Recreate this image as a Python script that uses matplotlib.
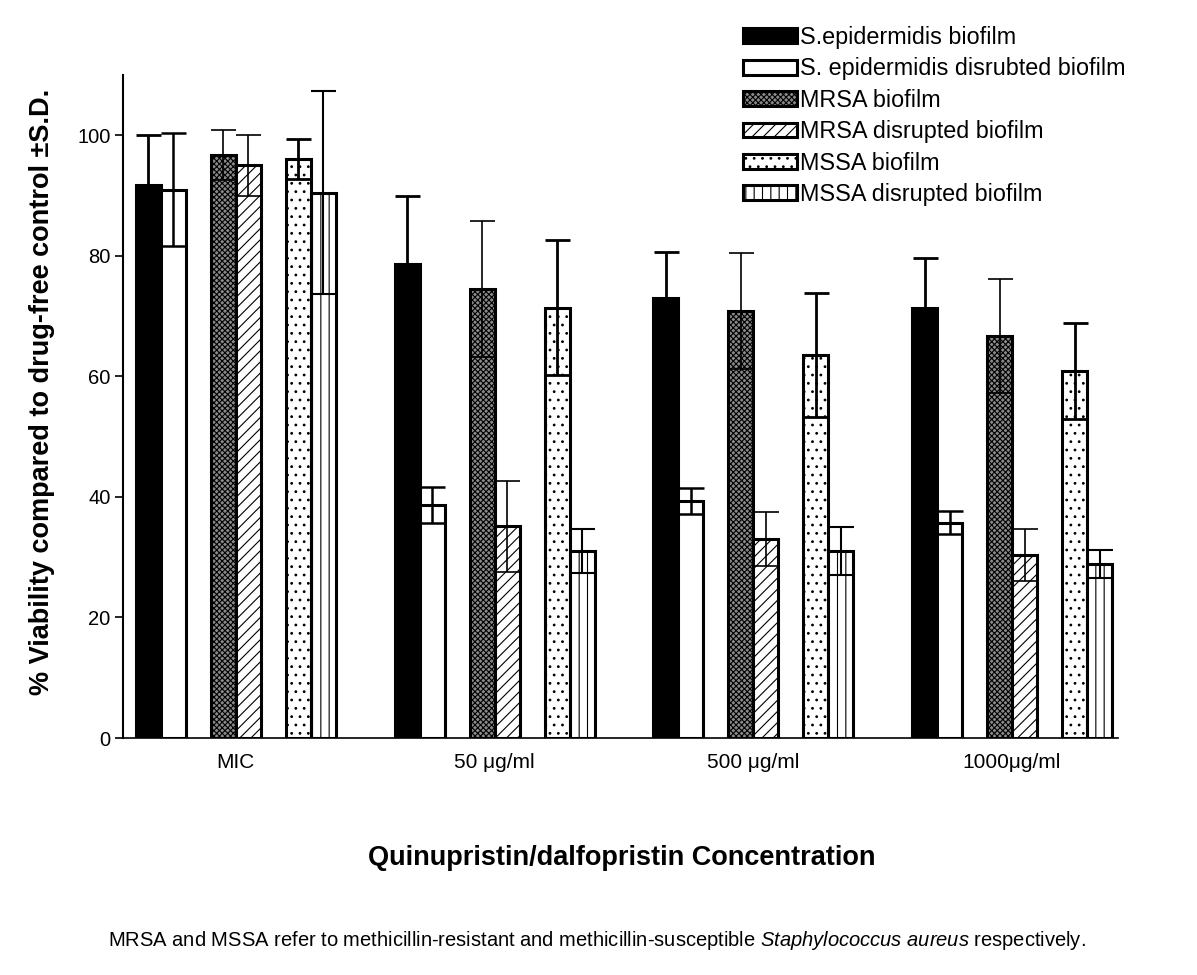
import matplotlib
matplotlib.use("Agg")
import matplotlib.pyplot as plt
import numpy as np

plt.rcParams['font.family'] = ['Liberation Sans', 'DejaVu Sans']
plt.rcParams['hatch.linewidth'] = 0.8
plt.rcParams['mathtext.fontset'] = 'custom'
plt.rcParams['mathtext.rm'] = 'Liberation Sans'
plt.rcParams['mathtext.it'] = 'Liberation Sans:italic'

categories = ["MIC", "50 \u03bcg/ml", "500 \u03bcg/ml", "1000\u03bcg/ml"]
series_names = ["S.epidermidis biofilm", "S. epidermidis disrubted biofilm",
                "MRSA biofilm", "MRSA disrupted biofilm",
                "MSSA biofilm", "MSSA disrupted biofilm"]

se_biofilm = [91.7, 78.7, 73.0, 71.3]
se_biofilm_sd = [8.3, 11.3, 7.7, 8.4]
se_disrupted = [91.0, 38.7, 39.3, 35.7]
se_disrupted_sd = [9.3, 3.0, 2.2, 1.9]
mrsa_biofilm = [96.7, 74.5, 70.9, 66.7]
mrsa_biofilm_sd = [4.1, 11.3, 9.6, 9.4]
mrsa_disrupted = [95.0, 35.1, 33.0, 30.4]
mrsa_disrupted_sd = [5.0, 7.5, 4.5, 4.3]
mssa_biofilm = [96.0, 71.4, 63.5, 60.9]
mssa_biofilm_sd = [3.3, 11.2, 10.3, 7.9]
mssa_disrupted = [90.5, 31.0, 31.0, 28.9]
mssa_disrupted_sd = [16.8, 3.7, 4.0, 2.3]

values = [se_biofilm, se_disrupted, mrsa_biofilm, mrsa_disrupted, mssa_biofilm, mssa_disrupted]
sds = [se_biofilm_sd, se_disrupted_sd, mrsa_biofilm_sd, mrsa_disrupted_sd, mssa_biofilm_sd, mssa_disrupted_sd]

yticks = [0, 20, 40, 60, 80, 100]

fig = plt.figure(figsize=(11.97, 9.75), dpi=100)
ax = fig.add_axes([123/1197, 1-738/975, (1118-123)/1197, (738-75)/975])

bw = 25/259
offsets = np.array([-87, -62, -12, 13, 63, 88]) / 259
fills = ['black', 'white', '#8a8a8a', 'white', 'white', 'white']
hatches = [None, None, 'xxxxxx', '///', '..', '||']
err_lw = [2.0, 1.8, 1.2, 1.2, 2.0, 1.5]

x = np.arange(len(categories))
for i in range(6):
    ax.bar(x + offsets[i], values[i], width=bw, color=fills[i], edgecolor='black',
           linewidth=2.2, hatch=hatches[i], label=series_names[i], zorder=2)
    ax.errorbar(x + offsets[i], values[i], yerr=sds[i], fmt='none', ecolor='black',
                elinewidth=err_lw[i], capsize=12.5 * 72 / 100, capthick=err_lw[i], zorder=3)

ax.set_xlim(-112.5/259, 3 + 106.5/259)
ax.set_ylim(0, 110)
ax.set_yticks(yticks)
ax.set_xticks(x)
ax.set_xticklabels(categories)
ax.tick_params(axis='x', length=0, labelsize=15, pad=11)
ax.tick_params(axis='y', length=6, width=1.2, labelsize=14.5, pad=3)
for s in ['top', 'right']:
    ax.spines[s].set_visible(False)
ax.spines['left'].set_linewidth(1.5)
ax.spines['bottom'].set_linewidth(1.2)

fig.text(42/1197, 1-392/975, "% Viability compared to drug-free control \u00b1S.D.",
         rotation=90, ha='center', va='center', fontsize=19.5, fontweight='bold')
fig.text(622/1197, 1-858/975, "Quinupristin/dalfopristin Concentration",
         ha='center', va='center', fontsize=19.5, fontweight='bold')
fig.text(597/1197, 1-941/975,
         r"MRSA and MSSA refer to methicillin-resistant and methicillin-susceptible $Staphylococcus\ aureus$ respectively.",
         ha='center', va='center', fontsize=14.5)

leg = ax.legend(loc='upper left', bbox_to_anchor=(743/1197, 1-26/975),
                bbox_transform=fig.transFigure, frameon=False, fontsize=16.8,
                handlelength=2.3, handleheight=0.6, handletextpad=0.15,
                labelspacing=0.36, borderpad=0, borderaxespad=0)

fig.savefig("out.png", dpi=100)
